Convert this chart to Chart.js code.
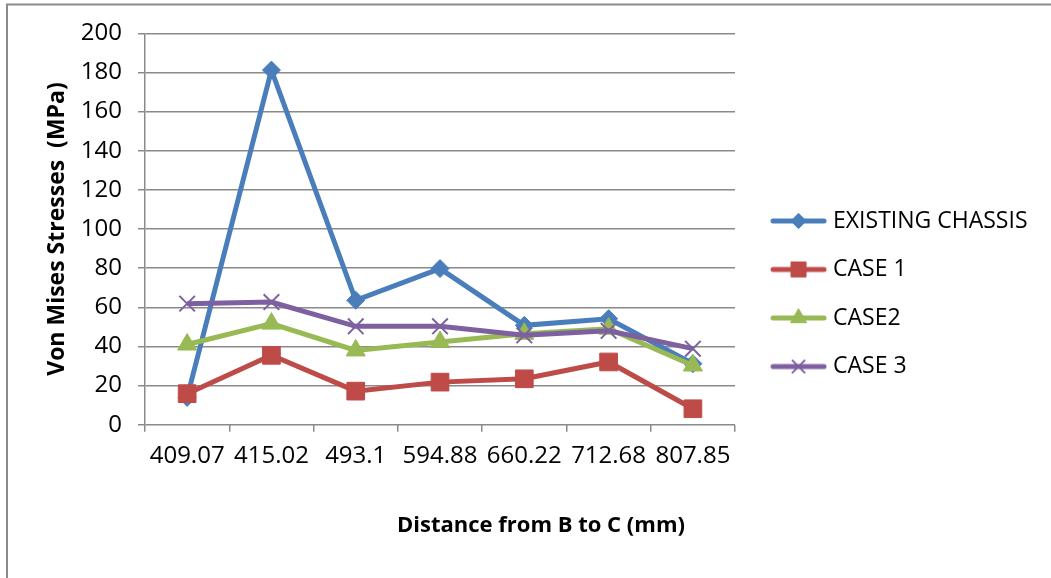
<!DOCTYPE html>
<html>
<head>
<meta charset="utf-8">
<script src="https://cdn.jsdelivr.net/npm/chart.js@4.4.0/dist/chart.umd.min.js"></script>
<style>
  html, body { margin: 0; padding: 0; background: #fff; }
</style>
</head>
<body>
<canvas id="stressChart" width="1051" height="578"></canvas>
<script>
// distances along the member, mm
const distances = ['409.07', '415.02', '493.1', '594.88', '660.22', '712.68', '807.85'];

// von Mises stress, MPa
const existingChassis = [14, 181.2, 63.6, 79.8, 50.8, 54.2, 31.2];
const case1 = [15.9, 35.5, 17.2, 21.8, 23.5, 32.1, 8.2];
const case2 = [41, 51.7, 38, 42.3, 46.5, 49.1, 30.3];
const case3 = [61.9, 62.7, 50.3, 50.3, 45.7, 48, 38.9];

const seriesNames = ['EXISTING CHASSIS', 'CASE 1', 'CASE2', 'CASE 3'];

const yMin = 0;
const yMax = 200;
const yStep = 20;

const xTitle = 'Distance from B to C (mm)';
const yTitle = 'Von Mises Stresses  (MPa)';

const FONT = '"Open Sans", "DejaVu Sans", sans-serif';
const GRID = '#8a8a8a';

const styles = [
    { color: '#4a7ebb', marker: 'rectRot', radius: 9 },
    { color: '#be4b48', marker: 'rect', radius: 12.5 },
    { color: '#98b954', marker: 'triangle', radius: 11 },
    { color: '#7d60a0', marker: 'crossRot', radius: 11 }
];

// small line + marker picture used as the legend symbol
function legendSwatch(style) {
    const c = document.createElement('canvas');
    c.width = 57;
    c.height = 26;
    const ctx = c.getContext('2d');
    ctx.strokeStyle = style.color;
    ctx.fillStyle = style.color;
    ctx.lineWidth = 5;
    ctx.lineCap = 'round';
    ctx.beginPath();
    ctx.moveTo(3, 13);
    ctx.lineTo(54, 13);
    ctx.stroke();
    const bw = style.marker === 'crossRot' ? 2 : 1;
    ctx.lineWidth = bw;
    ctx.lineCap = 'butt';
    Chart.helpers.drawPoint(ctx, { pointStyle: style.marker, radius: style.radius * 0.85, rotation: 0, borderWidth: bw }, 28.5, 13);
    return c;
}

function makeDataset(label, values, style, order) {
    return {
        label: label,
        data: values,
        order: order,
        borderColor: style.color,
        backgroundColor: style.color,
        borderWidth: 5,
        pointStyle: style.marker,
        pointRadius: style.radius,
        pointBorderWidth: style.marker === 'crossRot' ? 2 : 1,
        pointBackgroundColor: style.color,
        pointBorderColor: style.color,
        tension: 0
    };
}

// outer frame of the chart object
const chartFrame = {
    id: 'chartFrame',
    beforeDraw(chart) {
        const ctx = chart.ctx;
        ctx.save();
        ctx.strokeStyle = GRID;
        ctx.lineWidth = 2;
        ctx.beginPath();
        ctx.moveTo(7, chart.height);
        ctx.lineTo(7, 4.5);
        ctx.lineTo(chart.width, 4.5);
        ctx.stroke();
        ctx.restore();
    }
};

// horizontal axis title sits off-centre, under the right part of the plot
const xAxisTitle = {
    id: 'xAxisTitle',
    afterDraw(chart) {
        const ctx = chart.ctx;
        ctx.save();
        ctx.font = 'bold 22px ' + FONT;
        ctx.fillStyle = '#000';
        ctx.textAlign = 'center';
        ctx.textBaseline = 'middle';
        ctx.fillText(xTitle, 541, 526);
        ctx.restore();
    }
};

const datasets = [
    makeDataset(seriesNames[0], existingChassis, styles[0], 4),
    makeDataset(seriesNames[1], case1, styles[1], 3),
    makeDataset(seriesNames[2], case2, styles[2], 2),
    makeDataset(seriesNames[3], case3, styles[3], 1)
];

const swatches = styles.map(legendSwatch);

const ctx = document.getElementById('stressChart').getContext('2d');
const stressChart = new Chart(ctx, {
    type: 'line',
    data: {
        labels: distances,
        datasets: datasets
    },
    plugins: [chartFrame, xAxisTitle],
    options: {
        responsive: false,
        animation: false,
        layout: {
            padding: { top: 33.3, right: 13.5, bottom: 8.3, left: 30 }
        },
        scales: {
            x: {
                type: 'category',
                offset: true,
                grid: {
                    offset: true,
                    drawOnChartArea: false,
                    drawTicks: true,
                    tickLength: 7,
                    color: GRID,
                    lineWidth: 1.5
                },
                border: { display: false },
                ticks: {
                    color: '#000',
                    padding: 10,
                    maxRotation: 0,
                    autoSkip: false,
                    font: { family: FONT, size: 24 }
                },
                afterFit(scale) {
                    scale.height += 89.1;
                }
            },
            y: {
                min: yMin,
                max: yMax,
                ticks: {
                    stepSize: yStep,
                    color: '#000',
                    padding: 16,
                    font: { family: FONT, size: 24 }
                },
                grid: {
                    color: GRID,
                    lineWidth: 1.5,
                    tickLength: 7
                },
                border: { color: GRID, width: 1.5 },
                title: {
                    display: true,
                    text: yTitle,
                    color: '#000',
                    font: { family: FONT, size: 23, weight: 'bold' },
                    padding: { top: 14, bottom: 12 }
                },
                afterFit(scale) {
                    scale.width = 115;
                }
            },
            // keeps a gap between the plot and the legend
            gap: {
                type: 'linear',
                position: 'right',
                grid: { display: false },
                border: { display: false },
                ticks: { display: false },
                afterFit(scale) {
                    scale.width = 30.5;
                }
            }
        },
        plugins: {
            legend: {
                position: 'right',
                maxWidth: 300,
                labels: {
                    usePointStyle: true,
                    pointStyleWidth: 46,
                    padding: 10,
                    color: '#000',
                    // line height sets the spacing between legend rows
                    font: { family: FONT, size: 23, lineHeight: 1.674 },
                    generateLabels(chart) {
                        return chart.data.datasets.map((ds, i) => ({
                            text: [ds.label],
                            pointStyle: swatches[i],
                            fillStyle: ds.borderColor,
                            strokeStyle: ds.borderColor,
                            lineWidth: 0,
                            hidden: false,
                            datasetIndex: i,
                            fontColor: '#000'
                        }));
                    }
                }
            },
            tooltip: { enabled: false }
        }
    }
});
</script>
</body>
</html>
